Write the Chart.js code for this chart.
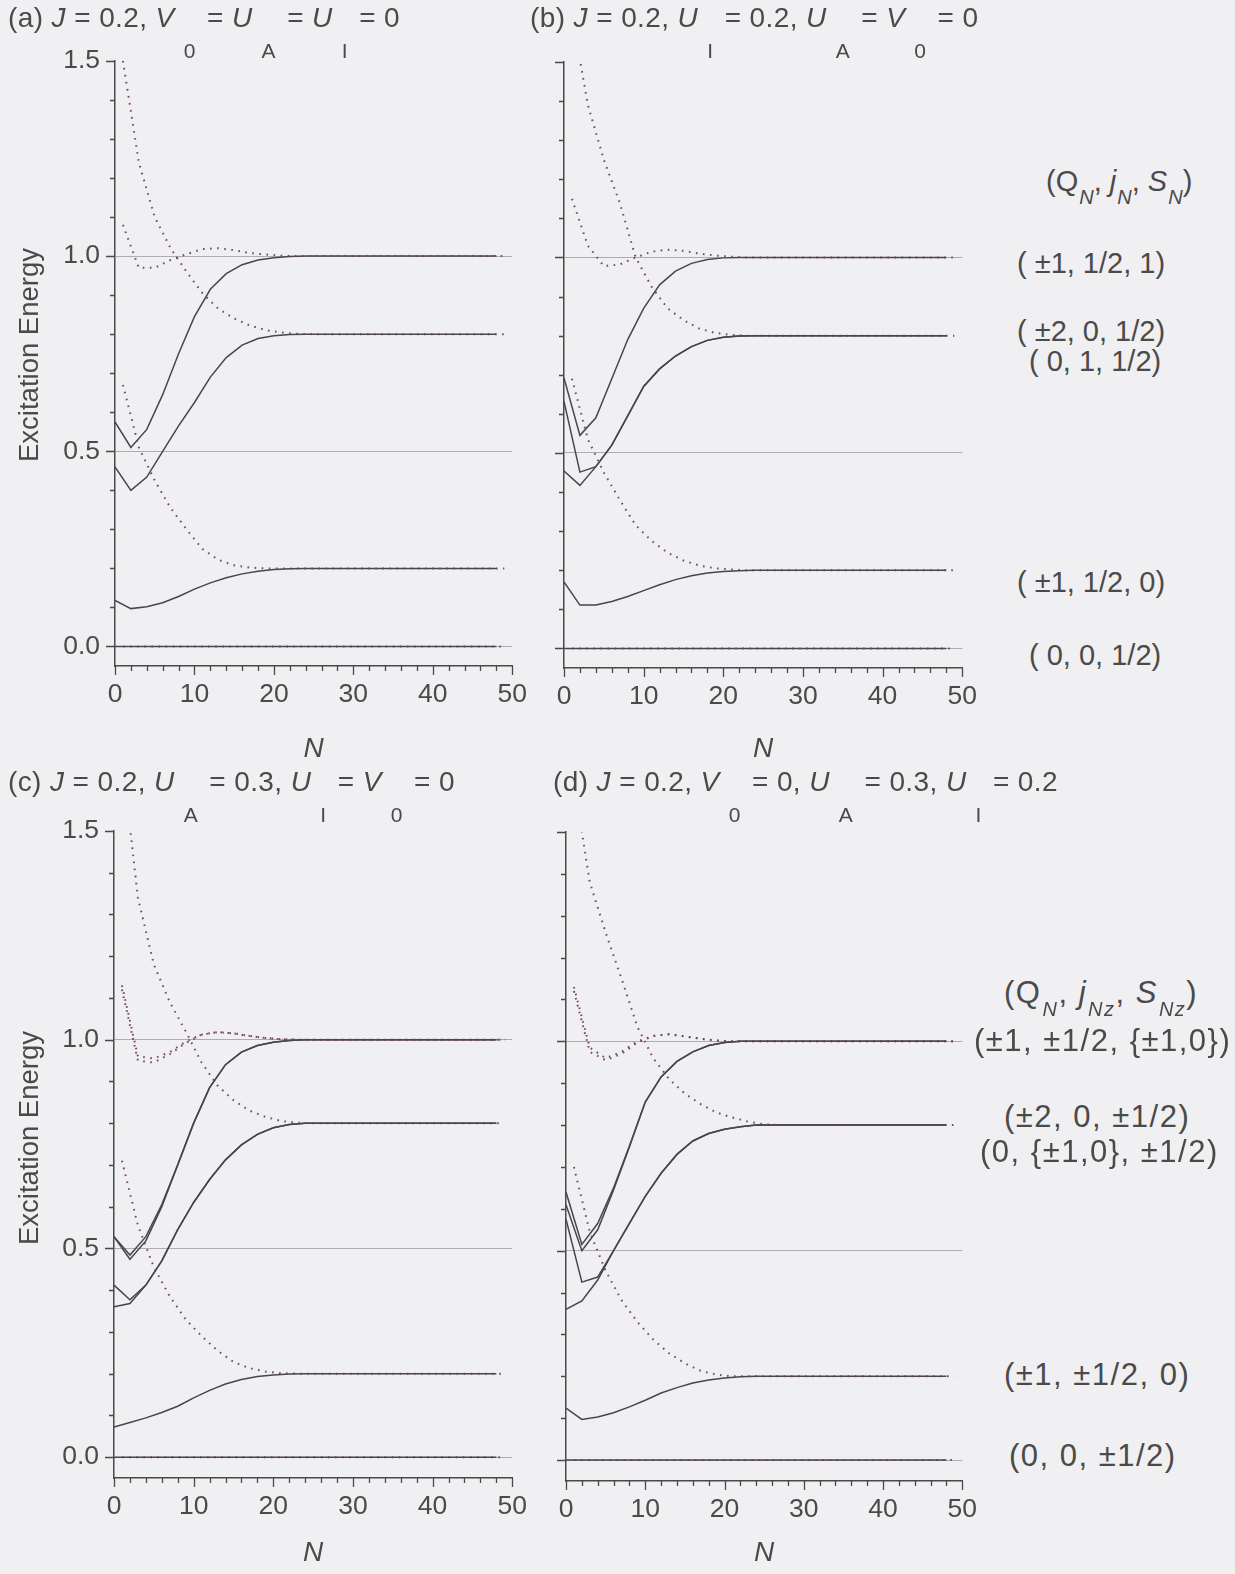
<!DOCTYPE html>
<html>
<head>
<meta charset="utf-8">
<script src="https://cdn.jsdelivr.net/npm/chart.js@4.4.1/dist/chart.umd.min.js"></script>
<style>
  html, body { margin: 0; padding: 0; background: #f0eff1; }
  #page { position: relative; width: 1235px; height: 1574px; overflow: hidden;
          font-family: "Liberation Sans", Arial, sans-serif; color: #4a4a4a; }
  canvas { position: absolute; }
  .t { position: absolute; white-space: nowrap; line-height: 32px; }
  .ttl { font-size: 28px; letter-spacing: 0.4px; }
  .ttl .sb { font-size: 21px; position: relative; top: 31px; margin-left: 9px; margin-right: 3px; }
  .lab { font-size: 29px; }
  .lab2 { font-size: 31px; letter-spacing: 1.5px; }
  .ls { font-size: 20px; font-style: italic; position: relative; top: 13px; margin-left: 1px; }
  .ytitle { position: absolute; white-space: nowrap; font-size: 27.5px; line-height: 32px;
            transform: translate(-50%, -50%) rotate(-90deg); }
</style>
</head>
<body>
<div id="page">
  <canvas id="pa" width="540" height="740" style="left:0px;top:30px"></canvas>
  <canvas id="pb" width="450" height="740" style="left:540px;top:30px"></canvas>
  <canvas id="pc" width="540" height="770" style="left:0px;top:800px"></canvas>
  <canvas id="pd" width="450" height="770" style="left:540px;top:800px"></canvas>

  <div class="ytitle" style="left:29px;top:355px">Excitation Energy</div>
  <div class="ytitle" style="left:29px;top:1138px">Excitation Energy</div>

  <div class="t ttl" style="left:8px;top:2px">(a) <i>J</i> = 0.2, <i>V</i><span class="sb">0</span> = <i>U</i><span class="sb">A</span> = <i>U</i><span class="sb">I</span> = 0</div>
  <div class="t ttl" style="left:530px;top:2px">(b) <i>J</i> = 0.2, <i>U</i><span class="sb">I</span> = 0.2, <i>U</i><span class="sb">A</span> = <i>V</i><span class="sb">0</span> = 0</div>
  <div class="t ttl" style="left:8px;top:766px">(c) <i>J</i> = 0.2, <i>U</i><span class="sb">A</span> = 0.3, <i>U</i><span class="sb">I</span> = <i>V</i><span class="sb">0</span> = 0</div>
  <div class="t ttl" style="left:553px;top:766px">(d) <i>J</i> = 0.2, <i>V</i><span class="sb">0</span> = 0, <i>U</i><span class="sb">A</span> = 0.3, <i>U</i><span class="sb">I</span> = 0.2</div>

  <div class="t lab" style="left:1046px;top:165px">(Q<span class="ls">N</span>, <i>j</i><span class="ls">N</span>, <i>S</i><span class="ls">N</span>)</div>
  <div class="t lab" style="left:1017px;top:247px">( ±1, 1/2, 1)</div>
  <div class="t lab" style="left:1017px;top:315px">( ±2, 0, 1/2)</div>
  <div class="t lab" style="left:1029px;top:345px">( 0, 1, 1/2)</div>
  <div class="t lab" style="left:1017px;top:566px">( ±1, 1/2, 0)</div>
  <div class="t lab" style="left:1029px;top:639px">( 0, 0, 1/2)</div>

  <div class="t lab2" style="left:1004px;top:977px">(Q<span class="ls">N</span>, <i>j</i><span class="ls">Nz</span>, <i>S</i><span class="ls">Nz</span>)</div>
  <div class="t lab2" style="left:974px;top:1025px">(±1, ±1/2, {±1,0})</div>
  <div class="t lab2" style="left:1004px;top:1101px">(±2, 0, ±1/2)</div>
  <div class="t lab2" style="left:980px;top:1136px">(0, {±1,0}, ±1/2)</div>
  <div class="t lab2" style="left:1004px;top:1359px">(±1, ±1/2, 0)</div>
  <div class="t lab2" style="left:1009px;top:1440px">(0, 0, ±1/2)</div>
</div>

<script>
// Iteration numbers: even N carry the solid flows, odd N the dotted ones.
const evenN = [0,2,4,6,8,10,12,14,16,18,20,22,24,26,28,30,32,34,36,38,40,42,44,46,48];
const oddN  = [1,3,5,7,9,11,13,15,17,19,21,23,25,27,29,31,33,35,37,39,41,43,45,47,49];

// Tick positions
const xTickValues = [0,2,4,6,8,10,12,14,16,18,20,22,24,26,28,30,32,34,36,38,40,42,44,46,48,50];
const yTickValues = [0,0.1,0.2,0.3,0.4,0.5,0.6,0.7,0.8,0.9,1.0,1.1,1.2,1.3,1.4,1.5];
const yMajor = [0, 0.5, 1.0, 1.5];
const yGuide = [0, 0.5, 1.0];

const zeros = [0,0,0,0,0,0,0,0,0,0,0,0,0,0,0,0,0,0,0,0,0,0,0,0,0];

// (a) J = 0.2, V0 = UA = UI = 0
const aEven02 = [0.118,0.097,0.102,0.112,0.128,0.147,0.163,0.176,0.186,0.193,0.197,0.199,0.2,0.2,0.2,0.2,0.2,0.2,0.2,0.2,0.2,0.2,0.2,0.2,0.2];
const aEven08 = [0.46,0.40,0.434,0.50,0.565,0.625,0.69,0.74,0.772,0.789,0.796,0.799,0.8,0.8,0.8,0.8,0.8,0.8,0.8,0.8,0.8,0.8,0.8,0.8,0.8];
const aEven10 = [0.575,0.51,0.556,0.645,0.75,0.845,0.915,0.955,0.978,0.99,0.996,0.999,1.0,1.0,1.0,1.0,1.0,1.0,1.0,1.0,1.0,1.0,1.0,1.0,1.0];
const aOdd08  = [1.5,1.24,1.10,1.02,0.96,0.905,0.865,0.84,0.822,0.81,0.804,0.801,0.8,0.8,0.8,0.8,0.8,0.8,0.8,0.8,0.8,0.8,0.8,0.8,0.8];
const aOdd10  = [1.08,0.97,0.97,0.99,1.005,1.018,1.02,1.015,1.008,1.004,1.001,1.0,1.0,1.0,1.0,1.0,1.0,1.0,1.0,1.0,1.0,1.0,1.0,1.0,1.0];
const aOdd02  = [0.67,0.51,0.425,0.355,0.30,0.25,0.222,0.208,0.202,0.2,0.2,0.2,0.2,0.2,0.2,0.2,0.2,0.2,0.2,0.2,0.2,0.2,0.2,0.2,0.2];

// (b) J = 0.2, UI = 0.2, UA = V0 = 0
const bEven02  = [0.17,0.111,0.111,0.12,0.133,0.148,0.163,0.176,0.186,0.193,0.197,0.199,0.2,0.2,0.2,0.2,0.2,0.2,0.2,0.2,0.2,0.2,0.2,0.2,0.2];
const bEven08a = [0.454,0.417,0.465,0.52,0.595,0.67,0.715,0.748,0.772,0.788,0.796,0.799,0.8,0.8,0.8,0.8,0.8,0.8,0.8,0.8,0.8,0.8,0.8,0.8,0.8];
const bEven08b = [0.632,0.451,0.465,0.52,0.595,0.67,0.715,0.748,0.772,0.788,0.796,0.799,0.8,0.8,0.8,0.8,0.8,0.8,0.8,0.8,0.8,0.8,0.8,0.8,0.8];
const bEven10  = [0.692,0.545,0.59,0.69,0.79,0.87,0.93,0.965,0.985,0.995,0.999,1.0,1.0,1.0,1.0,1.0,1.0,1.0,1.0,1.0,1.0,1.0,1.0,1.0,1.0];
const bOdd08   = [1.62,1.39,1.25,1.14,1.0,0.925,0.87,0.84,0.818,0.807,0.802,0.8,0.8,0.8,0.8,0.8,0.8,0.8,0.8,0.8,0.8,0.8,0.8,0.8,0.8];
const bOdd10   = [1.15,1.03,0.978,0.982,1.0,1.015,1.02,1.017,1.01,1.005,1.002,1.0,1.0,1.0,1.0,1.0,1.0,1.0,1.0,1.0,1.0,1.0,1.0,1.0,1.0];
const bOdd02   = [0.69,0.535,0.45,0.38,0.315,0.275,0.245,0.225,0.212,0.205,0.202,0.2,0.2,0.2,0.2,0.2,0.2,0.2,0.2,0.2,0.2,0.2,0.2,0.2,0.2];

// (c) J = 0.2, UA = 0.3, UI = V0 = 0
const cEven02  = [0.072,0.083,0.094,0.107,0.122,0.142,0.16,0.175,0.186,0.193,0.197,0.199,0.2,0.2,0.2,0.2,0.2,0.2,0.2,0.2,0.2,0.2,0.2,0.2,0.2];
const cEven08a = [0.412,0.377,0.412,0.47,0.545,0.61,0.665,0.712,0.748,0.773,0.789,0.797,0.8,0.8,0.8,0.8,0.8,0.8,0.8,0.8,0.8,0.8,0.8,0.8,0.8];
const cEven08b = [0.36,0.368,0.412,0.47,0.545,0.61,0.665,0.712,0.748,0.773,0.789,0.797,0.8,0.8,0.8,0.8,0.8,0.8,0.8,0.8,0.8,0.8,0.8,0.8,0.8];
const cEven10a = [0.528,0.484,0.528,0.605,0.70,0.80,0.885,0.94,0.97,0.986,0.994,0.998,1.0,1.0,1.0,1.0,1.0,1.0,1.0,1.0,1.0,1.0,1.0,1.0,1.0];
const cEven10b = [0.528,0.474,0.518,0.60,0.70,0.80,0.885,0.94,0.97,0.986,0.994,0.998,1.0,1.0,1.0,1.0,1.0,1.0,1.0,1.0,1.0,1.0,1.0,1.0,1.0];
const cOdd08   = [1.68,1.34,1.18,1.09,1.02,0.945,0.89,0.855,0.83,0.815,0.805,0.801,0.8,0.8,0.8,0.8,0.8,0.8,0.8,0.8,0.8,0.8,0.8,0.8,0.8];
const cOdd10a  = [1.13,0.96,0.955,0.97,0.995,1.012,1.018,1.015,1.009,1.004,1.001,1.0,1.0,1.0,1.0,1.0,1.0,1.0,1.0,1.0,1.0,1.0,1.0,1.0,1.0];
const cOdd10b  = [1.12,0.95,0.945,0.965,0.992,1.012,1.018,1.015,1.009,1.004,1.001,1.0,1.0,1.0,1.0,1.0,1.0,1.0,1.0,1.0,1.0,1.0,1.0,1.0,1.0];
const cOdd02   = [0.71,0.555,0.455,0.385,0.33,0.29,0.255,0.228,0.213,0.205,0.201,0.2,0.2,0.2,0.2,0.2,0.2,0.2,0.2,0.2,0.2,0.2,0.2,0.2,0.2];

// (d) J = 0.2, V0 = 0, UA = 0.3, UI = 0.2
const dEven02  = [0.124,0.097,0.103,0.113,0.127,0.143,0.16,0.173,0.184,0.191,0.196,0.199,0.2,0.2,0.2,0.2,0.2,0.2,0.2,0.2,0.2,0.2,0.2,0.2,0.2];
const dEven08a = [0.36,0.38,0.43,0.50,0.565,0.63,0.685,0.73,0.762,0.78,0.79,0.796,0.8,0.8,0.8,0.8,0.8,0.8,0.8,0.8,0.8,0.8,0.8,0.8,0.8];
const dEven08b = [0.575,0.425,0.437,0.50,0.565,0.63,0.685,0.73,0.762,0.78,0.79,0.796,0.8,0.8,0.8,0.8,0.8,0.8,0.8,0.8,0.8,0.8,0.8,0.8,0.8];
const dEven10a = [0.64,0.515,0.565,0.65,0.75,0.855,0.915,0.952,0.975,0.99,0.997,1.0,1.0,1.0,1.0,1.0,1.0,1.0,1.0,1.0,1.0,1.0,1.0,1.0,1.0];
const dEven10b = [0.61,0.50,0.55,0.645,0.748,0.855,0.915,0.952,0.975,0.99,0.997,1.0,1.0,1.0,1.0,1.0,1.0,1.0,1.0,1.0,1.0,1.0,1.0,1.0,1.0];
const dOdd08   = [1.62,1.38,1.26,1.15,1.035,0.96,0.91,0.875,0.85,0.83,0.818,0.808,0.802,0.8,0.8,0.8,0.8,0.8,0.8,0.8,0.8,0.8,0.8,0.8,0.8];
const dOdd10a  = [1.13,0.985,0.96,0.975,1.0,1.013,1.017,1.012,1.006,1.002,1.0,1.0,1.0,1.0,1.0,1.0,1.0,1.0,1.0,1.0,1.0,1.0,1.0,1.0,1.0];
const dOdd10b  = [1.12,0.975,0.955,0.97,0.997,1.013,1.017,1.012,1.006,1.002,1.0,1.0,1.0,1.0,1.0,1.0,1.0,1.0,1.0,1.0,1.0,1.0,1.0,1.0,1.0];
const dOdd02   = [0.70,0.545,0.452,0.382,0.33,0.288,0.255,0.231,0.213,0.204,0.2,0.2,0.2,0.2,0.2,0.2,0.2,0.2,0.2,0.2,0.2,0.2,0.2,0.2,0.2];

const SOLID = '#47464a';
const DOT = 'rgba(112,62,98,0.95)';
const AXIS = '#4a4a4a';
const GUIDE = '#aeacb1';
const TEXT = '#4a4a4a';
const FONT = '"Liberation Sans", Arial, sans-serif';

function solid(xs, ys) {
  return { data: xs.map((x, i) => ({ x, y: ys[i] })), borderColor: SOLID, borderWidth: 1.5,
           pointRadius: 0, tension: 0, fill: false };
}
function dotted(xs, ys) {
  return { data: xs.map((x, i) => ({ x, y: ys[i] })), borderColor: DOT, borderWidth: 2,
           borderDash: [1.6, 5.5], pointRadius: 0, tension: 0, fill: false };
}

// Major/minor tick marks drawn outward from both axes
const tickMarks = {
  id: 'tickMarks',
  afterDraw(chart) {
    const { ctx, chartArea: a, scales: { x, y } } = chart;
    ctx.save();
    ctx.strokeStyle = AXIS;
    ctx.lineWidth = 1.3;
    ctx.beginPath();
    x.ticks.forEach(t => {
      const px = Math.round(x.getPixelForValue(t.value)) + 0.5;
      const len = t.value % 10 === 0 ? 9 : 5;
      ctx.moveTo(px, a.bottom);
      ctx.lineTo(px, a.bottom + len);
    });
    y.ticks.forEach(t => {
      const py = Math.round(y.getPixelForValue(t.value)) + 0.5;
      const major = yMajor.some(v => Math.abs(v - t.value) < 1e-6);
      ctx.moveTo(a.left, py);
      ctx.lineTo(a.left - (major ? 9 : 5), py);
    });
    ctx.stroke();
    ctx.restore();
  }
};

function makePanel(id, box, datasets, showY, nPad) {
  const canvas = document.getElementById(id);
  const cw = canvas.width, ch = canvas.height;
  return new Chart(canvas, {
    type: 'line',
    data: { datasets },
    options: {
      responsive: false,
      animation: false,
      events: [],
      layout: { padding: { left: 0, top: box.T - box.ct, right: box.cl + cw - box.R, bottom: 0 } },
      plugins: { legend: { display: false }, tooltip: { enabled: false } },
      scales: {
        x: {
          type: 'linear', min: 0, max: 50,
          afterBuildTicks: s => { s.ticks = xTickValues.map(v => ({ value: v })); },
          afterFit: s => { s.height = box.ct + ch - box.B; },
          grid: { drawOnChartArea: false, drawTicks: false },
          border: { color: AXIS, width: 1.5 },
          ticks: { autoSkip: false, maxRotation: 0, padding: 13, color: TEXT,
                   font: { family: FONT, size: 26.5 },
                   callback: v => (v % 10 === 0 ? String(v) : '') },
          title: { display: true, text: 'N', color: TEXT,
                   font: { family: FONT, size: 28, style: 'italic' },
                   padding: { top: 0, bottom: nPad } }
        },
        y: {
          type: 'linear', min: -0.05, max: 1.5,
          afterBuildTicks: s => { s.ticks = yTickValues.map(v => ({ value: v })); },
          afterFit: s => { s.width = box.L - box.cl; },
          grid: { drawTicks: false, lineWidth: 1,
                  color: c => (c.tick && yGuide.some(v => Math.abs(v - c.tick.value) < 1e-6)) ? GUIDE : 'rgba(0,0,0,0)' },
          border: { color: AXIS, width: 1.5 },
          ticks: { display: showY, autoSkip: false, padding: 15, color: TEXT,
                   font: { family: FONT, size: 26.5 },
                   callback: v => (yMajor.some(m => Math.abs(m - v) < 1e-6) ? v.toFixed(1) : '') }
        }
      }
    },
    plugins: [tickMarks]
  });
}

makePanel('pa', { cl: 0, ct: 30, L: 115, R: 518, T: 60, B: 666 }, [
  dotted(oddN, zeros), dotted(oddN, aOdd02), dotted(oddN, aOdd08), dotted(oddN, aOdd10),
  solid(evenN, zeros), solid(evenN, aEven02), solid(evenN, aEven08), solid(evenN, aEven10)
], true, 4);

makePanel('pb', { cl: 540, ct: 30, L: 564, R: 965, T: 62, B: 668 }, [
  dotted(oddN, zeros), dotted(oddN, bOdd02), dotted(oddN, bOdd08), dotted(oddN, bOdd10),
  solid(evenN, zeros), solid(evenN, bEven02), solid(evenN, bEven08a), solid(evenN, bEven08b), solid(evenN, bEven10)
], false, 4);

makePanel('pc', { cl: 0, ct: 800, L: 114, R: 519, T: 827, B: 1478 }, [
  dotted(oddN, zeros), dotted(oddN, cOdd02), dotted(oddN, cOdd08), dotted(oddN, cOdd10a), dotted(oddN, cOdd10b),
  solid(evenN, zeros), solid(evenN, cEven02), solid(evenN, cEven08a), solid(evenN, cEven08b),
  solid(evenN, cEven10a), solid(evenN, cEven10b)
], true, 0);

makePanel('pd', { cl: 540, ct: 800, L: 566, R: 966, T: 832, B: 1481 }, [
  dotted(oddN, zeros), dotted(oddN, dOdd02), dotted(oddN, dOdd08), dotted(oddN, dOdd10a), dotted(oddN, dOdd10b),
  solid(evenN, zeros), solid(evenN, dEven02), solid(evenN, dEven08a), solid(evenN, dEven08b),
  solid(evenN, dEven10a), solid(evenN, dEven10b)
], false, 0);
</script>
</body>
</html>
